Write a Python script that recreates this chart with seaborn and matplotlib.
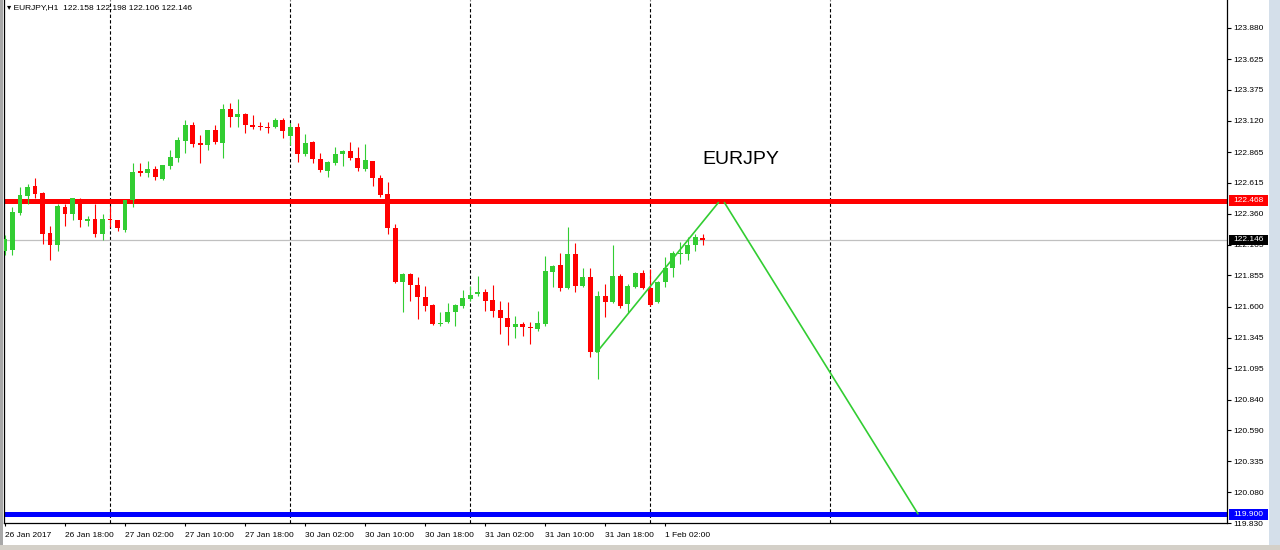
import numpy as np
import pandas as pd
import matplotlib
matplotlib.use("Agg")
import matplotlib.pyplot as plt
import matplotlib.transforms as mtransforms
from matplotlib.patches import Rectangle
import seaborn as sns

symbol = "EURJPY"
period = "H1"

# hourly bars, 26 Jan 2017 10:00 -> 1 Feb 2017 07:00
opens = [122.052, 122.060, 122.370, 122.509, 122.591, 122.534, 122.199, 122.101, 122.419, 122.362,
         122.476, 122.297, 122.321, 122.191, 122.321, 122.305, 122.231, 122.476, 122.713, 122.697,
         122.729, 122.648, 122.754, 122.819, 122.958, 123.089, 122.942, 122.925, 123.048, 122.942,
         123.219, 123.154, 123.178, 123.089, 123.080, 123.072, 123.072, 123.129, 122.999, 123.072,
         122.852, 122.950, 122.811, 122.713, 122.778, 122.852, 122.876, 122.819, 122.729, 122.795,
         122.656, 122.525, 122.240, 121.799, 121.864, 121.774, 121.676, 121.611, 121.456, 121.472,
         121.554, 121.603, 121.660, 121.701, 121.717, 121.652, 121.570, 121.505, 121.432, 121.456,
         121.432, 121.415, 121.456, 121.880, 121.938, 121.750, 122.027, 121.766, 121.840, 121.228,
         121.685, 121.636, 121.848, 121.619, 121.758, 121.872, 121.750, 121.636, 121.799, 121.913,
         122.027, 122.027, 122.101, 122.158]
highs = [122.183, 122.419, 122.582, 122.607, 122.656, 122.542, 122.256, 122.444, 122.444, 122.493,
         122.493, 122.338, 122.436, 122.362, 122.427, 122.313, 122.476, 122.778, 122.778, 122.795,
         122.754, 122.762, 122.885, 122.991, 123.129, 123.113, 123.007, 123.048, 123.089, 123.260,
         123.268, 123.301, 123.187, 123.170, 123.113, 123.113, 123.146, 123.146, 123.105, 123.105,
         123.015, 122.958, 122.860, 122.795, 122.909, 122.885, 122.950, 122.909, 122.934, 122.795,
         122.680, 122.623, 122.280, 121.872, 121.872, 121.840, 121.766, 121.619, 121.554, 121.627,
         121.619, 121.734, 121.766, 121.848, 121.742, 121.774, 121.644, 121.636, 121.521, 121.472,
         121.472, 121.562, 122.011, 121.938, 122.036, 122.248, 122.117, 121.913, 121.913, 121.725,
         121.783, 122.101, 121.864, 121.783, 121.880, 121.897, 121.905, 121.807, 122.003, 122.052,
         122.125, 122.174, 122.191, 122.198]
lows = [122.019, 122.019, 122.346, 122.436, 122.493, 122.109, 121.978, 122.052, 122.256, 122.305,
        122.248, 122.256, 122.174, 122.142, 122.248, 122.223, 122.207, 122.419, 122.672, 122.664,
        122.640, 122.640, 122.729, 122.787, 122.860, 122.909, 122.778, 122.885, 122.934, 122.819,
        123.072, 123.072, 123.023, 123.056, 123.048, 123.023, 123.064, 122.982, 122.925, 122.787,
        122.836, 122.778, 122.705, 122.664, 122.762, 122.754, 122.803, 122.713, 122.713, 122.591,
        122.501, 122.191, 121.791, 121.554, 121.644, 121.497, 121.562, 121.448, 121.440, 121.464,
        121.440, 121.587, 121.644, 121.685, 121.562, 121.513, 121.374, 121.285, 121.342, 121.358,
        121.293, 121.399, 121.440, 121.758, 121.725, 121.742, 121.717, 121.758, 121.187, 121.007,
        121.513, 121.627, 121.587, 121.546, 121.750, 121.742, 121.603, 121.627, 121.758, 121.840,
        121.946, 121.978, 122.052, 122.106]
closes = [122.150, 122.378, 122.517, 122.582, 122.525, 122.191, 122.101, 122.427, 122.362, 122.485,
          122.305, 122.321, 122.191, 122.321, 122.305, 122.240, 122.476, 122.705, 122.697, 122.729,
          122.664, 122.762, 122.827, 122.966, 123.089, 122.934, 122.925, 123.048, 122.950, 123.219,
          123.154, 123.178, 123.089, 123.072, 123.072, 123.064, 123.129, 123.040, 123.072, 122.852,
          122.942, 122.811, 122.721, 122.787, 122.852, 122.876, 122.819, 122.738, 122.803, 122.656,
          122.517, 122.240, 121.799, 121.864, 121.774, 121.676, 121.603, 121.456, 121.464, 121.554,
          121.611, 121.668, 121.693, 121.717, 121.644, 121.562, 121.505, 121.432, 121.456, 121.432,
          121.423, 121.464, 121.889, 121.929, 121.750, 122.027, 121.766, 121.840, 121.228, 121.685,
          121.636, 121.848, 121.603, 121.766, 121.872, 121.750, 121.611, 121.799, 121.913, 122.036,
          122.036, 122.101, 122.166, 122.146]

time_labels = ["26 Jan 2017", "26 Jan 18:00", "27 Jan 02:00", "27 Jan 10:00", "27 Jan 18:00",
               "30 Jan 02:00", "30 Jan 10:00", "30 Jan 18:00", "31 Jan 02:00", "31 Jan 10:00",
               "31 Jan 18:00", "1 Feb 02:00"]
label_bars = list(range(0, 8 * len(time_labels), 8))
day_breaks = [14, 38, 62, 86, 110]

price_ticks = [123.880, 123.625, 123.375, 123.120, 122.865, 122.615, 122.360, 122.105,
               121.855, 121.600, 121.345, 121.095, 120.840, 120.590, 120.335, 120.080, 119.830]

resistance = 122.468
target = 119.900
bid = 122.146

# hand drawn projection: up leg then down leg
trend_up_bars = [78.9, 95.1]
trend_up_prices = [121.228, 122.452]
trend_down_bars = [95.9, 121.7]
trend_down_prices = [122.452, 119.905]

BULL = "#32cd32"
BEAR = "#ff0000"

sns.set_style("white")
plt.rcParams["font.family"] = ["Liberation Sans", "DejaVu Sans"]

df = pd.DataFrame({"open": opens, "high": highs, "low": lows, "close": closes})
df["bar"] = np.arange(len(df))
df["color"] = np.where(df["close"] >= df["open"], BULL, BEAR)
df["body_lo"] = df[["open", "close"]].min(axis=1)
df["body_h"] = (df["close"] - df["open"]).abs().clip(lower=0.009)

fig = plt.figure(figsize=(12.8, 5.5), dpi=100)
fig.patch.set_facecolor("white")
ax = fig.add_axes([4 / 1280, 27 / 550, 1223 / 1280, 523 / 550])
ax.set_facecolor("white")

# day separators and bid line
for b in day_breaks:
    ax.axvline(b, color="black", lw=0.8, ls=(0, (3, 2)), zorder=1)
ax.axhline(bid, color="#c0c0c0", lw=0.9, zorder=1)

ax.axhline(resistance, color="#ff0000", lw=3.6, zorder=2)
ax.axhline(target, color="#0000ff", lw=3.6, zorder=2)

# candles
ax.vlines(df["bar"], df["low"], df["high"], colors=df["color"], lw=0.8, zorder=3)
ax.bar(df["bar"], df["body_h"], bottom=df["body_lo"], width=0.66, color=df["color"],
       edgecolor="none", zorder=3)

sns.lineplot(x=trend_up_bars, y=trend_up_prices, ax=ax, color=BULL, lw=1.2, zorder=4)
sns.lineplot(x=trend_down_bars, y=trend_down_prices, ax=ax, color=BULL, lw=1.2, zorder=4)

ax.text(93, 122.80, symbol, fontsize=14, ha="left", va="center", color="black")

ax.set_xlim(-0.133, 162.9)
ax.set_ylim(119.840, 124.109)

ax.yaxis.tick_right()
ax.set_yticks(price_ticks)
ax.set_yticklabels([f"{p:.3f}" for p in price_ticks])
ax.set_xticks(label_bars)
ax.set_xticklabels(time_labels, ha="left")
ax.tick_params(axis="y", right=True, left=False, labelright=True, labelleft=False,
               length=3, width=0.8, pad=1.5, labelsize=6, colors="black")
ax.tick_params(axis="x", bottom=True, length=2.5, width=0.8, pad=4, labelsize=6,
               colors="black")
for side in ["left", "right", "bottom"]:
    ax.spines[side].set_color("black")
    ax.spines[side].set_linewidth(0.9)
ax.spines["top"].set_visible(False)
ax.set_xlabel("")
ax.set_ylabel("")
ax.grid(False)

# price boxes on the right scale
box_tf = mtransforms.blended_transform_factory(ax.transAxes, ax.transData)
box_w = 39 / 1223
for value, face in [(resistance, "#ff0000"), (bid, "black"), (target, "#0000ff")]:
    ax.add_patch(Rectangle((1.0015, value - 0.042), box_w, 0.084, transform=box_tf,
                           facecolor=face, edgecolor="none", clip_on=False, zorder=5))
    ax.text(1.0015 + box_w / 2, value, f"{value:.3f}", transform=box_tf, color="white",
            fontsize=6, ha="center", va="center", clip_on=False, zorder=6)

# header line
fig.text(7 / 1280, 1 - 8 / 550,
         f"\u25be {symbol},{period}  {opens[-1]:.3f} {highs[-1]:.3f} {lows[-1]:.3f} {closes[-1]:.3f}",
         fontsize=6, ha="left", va="center", color="black")

# window chrome
fig.patches.append(Rectangle((0, 0), 3 / 1280, 1, transform=fig.transFigure,
                             facecolor="#a8a8a8", edgecolor="none"))
fig.patches.append(Rectangle((1269 / 1280, 0), 11 / 1280, 1, transform=fig.transFigure,
                             facecolor="#d4dfea", edgecolor="none"))
fig.patches.append(Rectangle((0, 0), 1, 5 / 550, transform=fig.transFigure,
                             facecolor="#d4d0c8", edgecolor="none"))

fig.savefig("out.png", dpi=100)
plt.close(fig)
